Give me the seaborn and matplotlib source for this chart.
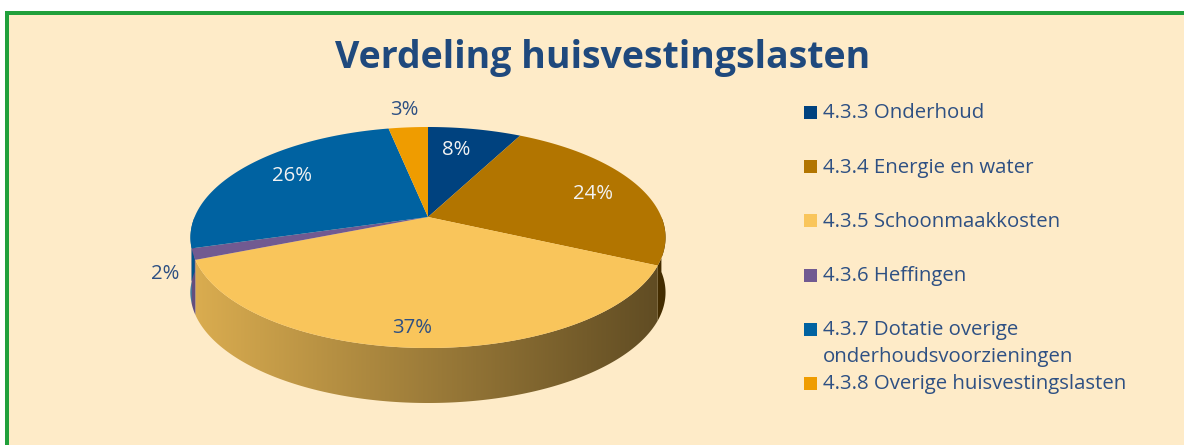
import numpy as np
import matplotlib
matplotlib.use("Agg")
import matplotlib.pyplot as plt
import matplotlib.transforms as mtransforms
from matplotlib.path import Path
from matplotlib.patches import Rectangle, Polygon
from matplotlib.colors import to_rgb
import seaborn as sns

# ---------------- data ----------------
title = "Verdeling huisvestingslasten"
categories = [
    "4.3.3 Onderhoud",
    "4.3.4 Energie en water",
    "4.3.5 Schoonmaakkosten",
    "4.3.6 Heffingen",
    "4.3.7 Dotatie overige\nonderhoudsvoorzieningen",
    "4.3.8 Overige huisvestingslasten",
]
shares = [7.6, 24.3, 37.0, 1.6, 26.3, 3.2]

# ---------------- style ----------------
slice_hex = ["#00427f", "#b27500", "#f9c55b", "#715a91", "#0062a1", "#ef9c00"]
label_colors = ["#f2f2f2", "#f2f2f2", "#2e5083", "#2e5083", "#f2f2f2", "#2e5083"]
label_dist = [0.73, 0.78, 0.87, 1.11, 0.73, 1.24]
label_nudge = [(-7, 0), (0, -3), (-10, 0), (0, -15), (0, 3), (0, 0)]  # pixels (dx, dy up)

sns.set_theme(style="white")
plt.rcParams["font.family"] = ["Open Sans", "DejaVu Sans"]
palette = sns.color_palette(slice_hex)

W, H = 1184, 445
CX, CY = 428, 217          # apex of the pie in pixels
A, B, K = 233.4, 106.7, 0.1855
DEPTH = 55
BG = "#feebc8"
GREEN = "#21a03c"
TEXT = "#2e5083"
TITLE = "#1f497d"


class Perspective(mtransforms.Transform):
    input_dims = 2
    output_dims = 2
    is_separable = False
    has_inverse = False

    def transform_non_affine(self, values):
        values = np.asarray(values, float)
        u, v = values[:, 0], values[:, 1]
        w = 1 + K * v
        return np.column_stack([CX + A * u / w, CY - B * v / w])

    def transform_path_non_affine(self, path):
        S = 2000.0
        polys = path.to_polygons(transform=mtransforms.Affine2D().scale(S),
                                 closed_only=True)
        verts, codes = [], []
        for p in polys:
            tp = self.transform_non_affine(np.asarray(p) / S)
            verts.append(tp)
            codes += [Path.MOVETO] + [Path.LINETO] * (len(tp) - 2) + [Path.CLOSEPOLY]
        return Path(np.concatenate(verts), codes)


fig = plt.figure(figsize=(W / 100, H / 100), dpi=100)
fig.patch.set_facecolor("white")
ax = fig.add_axes([0, 0, 1, 1])

wedges, _, autotexts = ax.pie(
    shares, colors=palette, startangle=90, counterclock=False,
    autopct=lambda p: f"{p:.0f}%", wedgeprops=dict(linewidth=0),
    textprops=dict(fontsize=14.7),
)
persp = Perspective()
ax.set_aspect("auto")
ax.set_xlim(0, W)
ax.set_ylim(H, 0)
ax.set_axis_off()

# background + border
ax.add_patch(Rectangle((9, 15), W, H, facecolor=BG, edgecolor="none", zorder=0))
ax.add_patch(Rectangle((5, 11), 4, H, facecolor=GREEN, edgecolor="none", zorder=0.5))
ax.add_patch(Rectangle((5, 11), W, 4, facecolor=GREEN, edgecolor="none", zorder=0.5))

# top faces
for wdg in wedges:
    wdg.set_transform(persp + ax.transData)
    wdg.set_zorder(3)

# side faces (front half) with horizontal light gradient
x_left, x_right = 185, 670
gx = np.linspace(x_left, x_right, 300)
shade = 0.88 + (0.38 - 0.88) * (gx - 190) / (665 - 190)
for wdg, col in zip(wedges, palette):
    t1, t2 = wdg.theta1, wdg.theta2
    for k in (-360, 0, 360):
        lo, hi = max(t1, -180 + k), min(t2, 0 + k)
        if hi <= lo:
            continue
        t = np.radians(np.linspace(lo, hi, 200))
        top = persp.transform_non_affine(np.column_stack([np.cos(t), np.sin(t)]))
        bot = top + np.array([0, DEPTH])
        poly = Polygon(np.vstack([top, bot[::-1]]), closed=True,
                       facecolor="none", edgecolor="none", zorder=2)
        ax.add_patch(poly)
        img = np.clip(np.array(to_rgb(col))[None, None, :] * shade[None, :, None], 0, 1)
        im = ax.imshow(img, extent=(x_left, x_right, 420, 150), aspect="auto",
                       zorder=2, interpolation="bilinear")
        im.set_clip_path(poly)

ax.set_xlim(0, W)
ax.set_ylim(H, 0)

# percentage labels
for wdg, txt, d, c, (dx, dy) in zip(wedges, autotexts, label_dist, label_colors, label_nudge):
    mid = np.radians((wdg.theta1 + wdg.theta2) / 2)
    txt.set_position((d * np.cos(mid), d * np.sin(mid)))
    txt.set_transform(persp + ax.transData + mtransforms.Affine2D().translate(dx, dy))
    txt.set_color(c)
    txt.set_ha("center")
    txt.set_va("center")
    txt.set_zorder(5)

# title
ax.text(603, 68, title, ha="center", va="baseline", fontsize=27,
        fontweight="bold", color=TITLE, zorder=5)

# legend
for i, (name, col) in enumerate(zip(categories, palette)):
    yc = 112.5 + 54.2 * i
    ax.add_patch(Rectangle((804, yc - 6.5), 13, 13, facecolor=col,
                           edgecolor="none", zorder=5))
    ax.text(823, yc - 9, name, ha="left", va="top", fontsize=14.7,
            color=TEXT, linespacing=1.42, zorder=5)

fig.savefig("out.png", dpi=100, facecolor=fig.get_facecolor())
